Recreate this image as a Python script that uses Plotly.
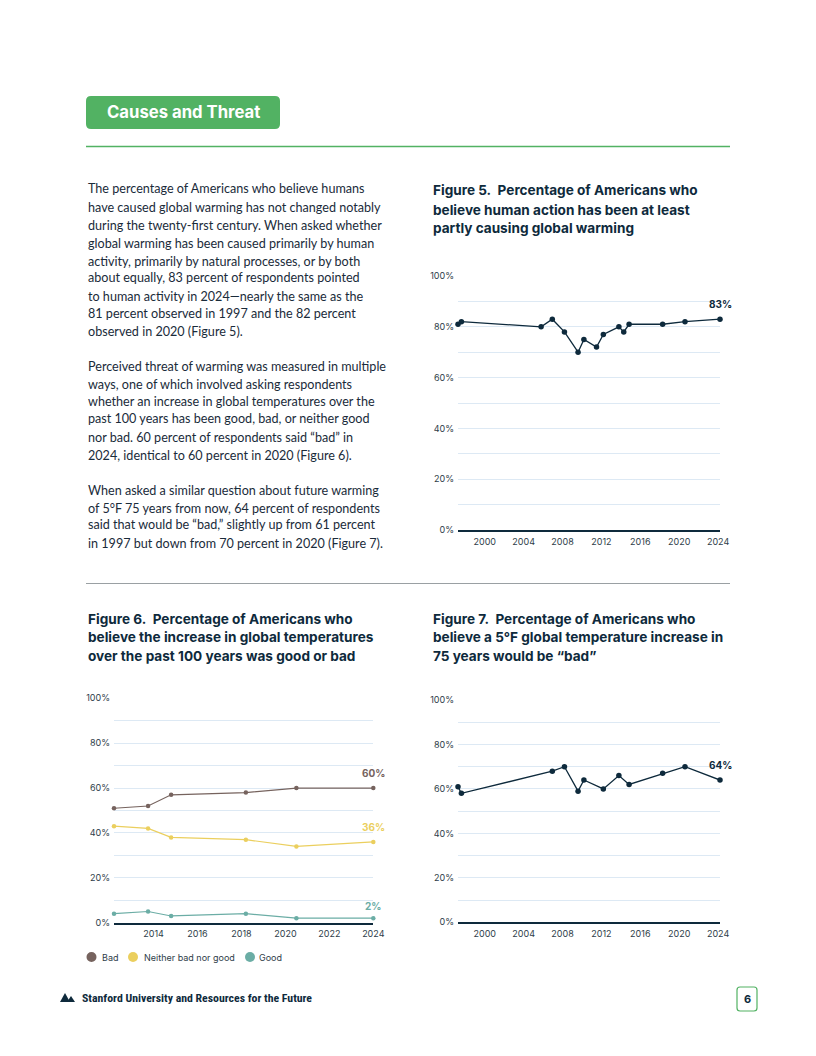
import plotly.graph_objects as go

W, H = 816, 1056

# ---------------- data ----------------
fig5_years = [1997.25, 1997.6, 2005.8, 2006.95, 2008.2, 2009.6, 2010.2, 2011.5,
              2012.2, 2013.8, 2014.3, 2014.85, 2018.3, 2020.6, 2024.2]
fig5_pct = [81, 82, 80, 83, 78, 70, 75, 72, 77, 80, 78, 81, 81, 82, 83]

fig6_years = [2012.2, 2013.75, 2014.8, 2018.2, 2020.5, 2024.0]
fig6_bad = [51, 52, 57, 58, 60, 60]
fig6_neither = [43, 42, 38, 37, 34, 36]
fig6_good = [4, 5, 3, 4, 2, 2]
fig6_series = ["Bad", "Neither bad nor good", "Good"]

fig7_years = [1997.25, 1997.6, 2006.95, 2008.2, 2009.6, 2010.2, 2012.2, 2013.8,
              2014.85, 2018.3, 2020.6, 2024.2]
fig7_pct = [61, 58, 68, 70, 59, 64, 60, 66, 62, 67, 70, 64]

y_tickvals = [0, 10, 20, 30, 40, 50, 60, 70, 80, 90, 100]
y_ticktext = ["0%", "", "20%", "", "40%", "", "60%", "", "80%", "", "100%"]
x_ticks_long = [2000, 2004, 2008, 2012, 2016, 2020, 2024]
x_ticks_short = [2014, 2016, 2018, 2020, 2022, 2024]

# ---------------- style ----------------
NAVY = "#0e2a3c"
TEXT = "#1a2b3a"
GREEN = "#52b263"
GRID = "#dde9f4"
C_BAD = "#76635e"
C_NEI = "#ebcf5e"
C_GOOD = "#6bada5"
FONT = "Inter, Lato, sans-serif"
BODYFONT = "Lato, Inter, sans-serif"
TICKFONT = dict(family=FONT, size=9, color="#2e3d49")


def px(x):
    return x / W


def py(y):
    return 1 - y / H


fig = go.Figure()

# Figure 5
fig.add_trace(go.Scatter(x=fig5_years, y=fig5_pct, mode="lines+markers",
                         line=dict(color=NAVY, width=1.3),
                         marker=dict(color=NAVY, size=5.5),
                         cliponaxis=False, showlegend=False,
                         xaxis="x", yaxis="y"))
# Figure 6
for vals, col in [(fig6_bad, C_BAD), (fig6_neither, C_NEI), (fig6_good, C_GOOD)]:
    fig.add_trace(go.Scatter(x=fig6_years, y=vals, mode="lines+markers",
                             line=dict(color=col, width=1.2),
                             marker=dict(color=col, size=4.5),
                             cliponaxis=False, showlegend=False,
                             xaxis="x2", yaxis="y2"))
# Figure 7
fig.add_trace(go.Scatter(x=fig7_years, y=fig7_pct, mode="lines+markers",
                         line=dict(color=NAVY, width=1.3),
                         marker=dict(color=NAVY, size=5.5),
                         cliponaxis=False, showlegend=False,
                         xaxis="x3", yaxis="y3"))


def xaxis_cfg(dom, rng, ticks, anchor):
    return dict(domain=dom, range=rng, tickvals=ticks, showgrid=False,
                zeroline=False, showline=True, linecolor=NAVY, linewidth=1.5,
                ticks="", tickfont=TICKFONT, anchor=anchor, fixedrange=True,
                ticklabelstandoff=2, automargin=False)


def yaxis_cfg(dom, anchor):
    return dict(domain=dom, range=[0, 100], tickvals=y_tickvals, ticktext=y_ticktext,
                showgrid=True, gridcolor=GRID, gridwidth=1, zeroline=False,
                showline=False, ticks="", tickfont=TICKFONT, anchor=anchor,
                fixedrange=True, ticklabelstandoff=3, automargin=False)


fig.update_layout(
    width=W, height=H, margin=dict(l=0, r=0, t=0, b=0, pad=0, autoexpand=False),
    paper_bgcolor="white", plot_bgcolor="white", showlegend=False,
    xaxis=xaxis_cfg([px(458), px(720)], [1997.25, 2024.2], x_ticks_long, "y"),
    yaxis=yaxis_cfg([py(530), py(276)], "x"),
    xaxis2=xaxis_cfg([px(114), px(373.3)], [2012.2, 2024.0], x_ticks_short, "y2"),
    yaxis2=yaxis_cfg([py(922.7), py(698.3)], "x2"),
    xaxis3=xaxis_cfg([px(458), px(720)], [1997.25, 2024.2], x_ticks_long, "y3"),
    yaxis3=yaxis_cfg([py(922.3), py(700)], "x3"),
)

ann = []
shapes = []


def text_line(x, y, s, size=12.6, color=TEXT, bold=False, anchor="left", family=BODYFONT):
    t = f"<b>{s}</b>" if bold else s
    ann.append(dict(x=px(x), y=py(y), xref="paper", yref="paper", text=t,
                    showarrow=False, xanchor=anchor, yanchor="middle",
                    font=dict(family=family, size=size, color=color)))


def rrect(x0, y0, x1, y1, r, fill=None, line=None, lw=1):
    p = (f"M {px(x0 + r)},{py(y0)} L {px(x1 - r)},{py(y0)} Q {px(x1)},{py(y0)} {px(x1)},{py(y0 + r)} "
         f"L {px(x1)},{py(y1 - r)} Q {px(x1)},{py(y1)} {px(x1 - r)},{py(y1)} "
         f"L {px(x0 + r)},{py(y1)} Q {px(x0)},{py(y1)} {px(x0)},{py(y1 - r)} "
         f"L {px(x0)},{py(y0 + r)} Q {px(x0)},{py(y0)} {px(x0 + r)},{py(y0)} Z")
    shapes.append(dict(type="path", path=p, xref="paper", yref="paper",
                       fillcolor=fill or "rgba(0,0,0,0)",
                       line=dict(color=line or "rgba(0,0,0,0)", width=lw if line else 0)))


# header
rrect(86, 96, 280, 129, 5, fill=GREEN)
text_line(183, 112, "Causes and Threat", size=16.7, color="white", bold=True,
          anchor="center", family=FONT)
shapes.append(dict(type="line", xref="paper", yref="paper", x0=px(86), x1=px(730),
                   y0=py(146.5), y1=py(146.5), line=dict(color=GREEN, width=1.3)))
shapes.append(dict(type="line", xref="paper", yref="paper", x0=px(86), x1=px(730),
                   y0=py(583.5), y1=py(583.5), line=dict(color="#9aa0a3", width=1)))

body = [
    (189, "The percentage of Americans who believe humans"),
    (207, "have caused global warming has not changed notably"),
    (225, "during the twenty-first century. When asked whether"),
    (243, "global warming has been caused primarily by human"),
    (261, "activity, primarily by natural processes, or by both"),
    (278, "about equally, 83 percent of respondents pointed"),
    (296, "to human activity in 2024—nearly the same as the"),
    (313, "81 percent observed in 1997 and the 82 percent"),
    (331, "observed in 2020 (Figure 5)."),
    (366, "Perceived threat of warming was measured in multiple"),
    (384, "ways, one of which involved asking respondents"),
    (402, "whether an increase in global temperatures over the"),
    (419, "past 100 years has been good, bad, or neither good"),
    (437, "nor bad. 60 percent of respondents said “bad” in"),
    (455, "2024, identical to 60 percent in 2020 (Figure 6)."),
    (490, "When asked a similar question about future warming"),
    (508, "of 5°F 75 years from now, 64 percent of respondents"),
    (525, "said that would be “bad,” slightly up from 61 percent"),
    (543, "in 1997 but down from 70 percent in 2020 (Figure 7)."),
]
for y, s in body:
    text_line(86, y, s)

TITLE_SIZE = 13.6
for y, s in [(190, "Figure 5.&nbsp; Percentage of Americans who"),
             (210, "believe human action has been at least"),
             (228, "partly causing global warming")]:
    text_line(431, y, s, size=TITLE_SIZE, color=NAVY, bold=True, family=FONT)
for y, s in [(619, "Figure 6.&nbsp; Percentage of Americans who"),
             (637, "believe the increase in global temperatures"),
             (656, "over the past 100 years was good or bad")]:
    text_line(86, y, s, size=TITLE_SIZE, color=NAVY, bold=True, family=FONT)
for y, s in [(619, "Figure 7.&nbsp; Percentage of Americans who"),
             (637, "believe a 5°F global temperature increase in"),
             (656, "75 years would be “bad”")]:
    text_line(431, y, s, size=TITLE_SIZE, color=NAVY, bold=True, family=FONT)


# end labels (from data)
def end_label(xa, ya, xs, ys, color, shift):
    ann.append(dict(x=xs[-1], y=ys[-1], xref=xa, yref=ya, text=f"<b>{ys[-1]}%</b>",
                    showarrow=False, xanchor="center", yanchor="middle", yshift=shift,
                    font=dict(family=FONT, size=10, color=color)))


end_label("x", "y", fig5_years, fig5_pct, NAVY, 15)
end_label("x2", "y2", fig6_years, fig6_bad, C_BAD, 15)
end_label("x2", "y2", fig6_years, fig6_neither, C_NEI, 15)
end_label("x2", "y2", fig6_years, fig6_good, C_GOOD, 12)
end_label("x3", "y3", fig7_years, fig7_pct, NAVY, 15)

# legend for figure 6
for cx, col, lx, name in [(91.5, C_BAD, 100, fig6_series[0]),
                          (133, C_NEI, 142, fig6_series[1]),
                          (250, C_GOOD, 257, fig6_series[2])]:
    shapes.append(dict(type="circle", xref="paper", yref="paper",
                       x0=px(cx - 5), x1=px(cx + 5), y0=py(957 + 5), y1=py(957 - 5),
                       fillcolor=col, line=dict(width=0)))
    text_line(lx, 957.5, name, size=9, color="#2e3d49", family=FONT)

# footer
shapes.append(dict(type="path", xref="paper", yref="paper", fillcolor=NAVY, line=dict(width=0),
                   path=f"M {px(60)},{py(1002)} L {px(65)},{py(993)} L {px(70)},{py(1002)} Z"))
shapes.append(dict(type="path", xref="paper", yref="paper", fillcolor=NAVY, line=dict(width=0),
                   path=f"M {px(67)},{py(1002)} L {px(71)},{py(996)} L {px(75)},{py(1002)} Z"))
text_line(80, 998, "Stanford University and Resources for the Future", size=11.8, color=NAVY,
          bold=True, family="Roboto Condensed, Liberation Sans Narrow, DejaVu Sans Condensed, Roboto")
rrect(737, 987, 757, 1011, 3, line=GREEN, lw=1.2)
text_line(747, 999, "6", size=11, color=NAVY, bold=True, anchor="center", family=FONT)

fig.update_layout(annotations=ann, shapes=shapes)
fig.write_html("out.html", config={"displayModeBar": False},
               post_script="document.body.style.margin='0';document.body.style.overflow='hidden';")
